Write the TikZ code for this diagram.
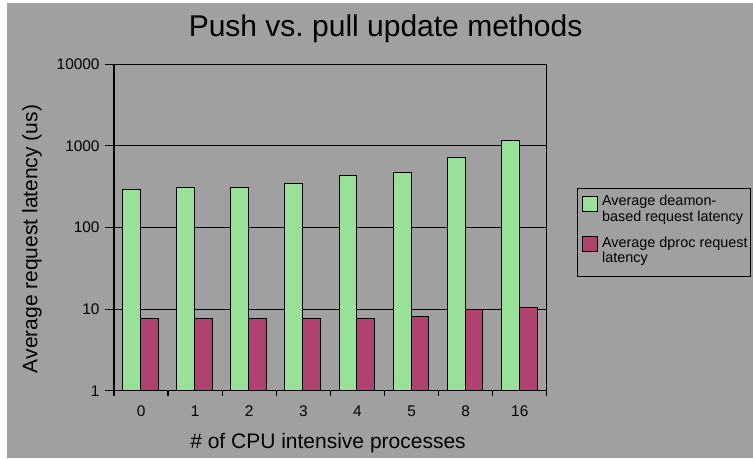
\documentclass[tikz,border=0pt]{standalone}
\usepackage{fontspec}
\setmainfont{Liberation Sans}
\usetikzlibrary{positioning}
\definecolor{chartgray}{RGB}{160,160,160}
\definecolor{daemongreen}{RGB}{153,224,153}
\definecolor{dprocred}{RGB}{176,66,112}

\begin{document}
\begin{tikzpicture}[x=27.05pt, y=40.8pt,
    bar/.style={draw=black, line width=0.5pt},
    gridline/.style={black, line width=0.6pt},
    ticklabel/.style={font=\fontsize{7.7}{9}\selectfont, inner sep=0pt},
    axislabel/.style={font=\fontsize{10.5}{12}\selectfont, inner sep=0pt},
    legendtext/.style={font=\fontsize{7.2}{7.8}\selectfont, inner sep=0pt, align=left, anchor=north west}]
    \useasboundingbox (-2.107,-0.825) rectangle (11.811,4.788);
    \fill[white] (-2.107,-0.825) rectangle (11.811,4.788);
    \fill[chartgray] (-1.978,-0.825) rectangle (11.811,4.751);

    % grid lines behind the bars
    \foreach \k in {1,2,3}
        \draw[gridline] (0,\k) -- (8,\k);

    % bars (log scale, one decade per unit)
    \foreach \i/\g/\r in {0/294/7.7, 1/305/7.7, 2/305/7.7, 3/348/7.7,
                          4/431/7.7, 5/475/8.2, 6/717/10, 7/1171/10.4} {
        \draw[bar, fill=daemongreen] (\i+0.16,0) rectangle (\i+0.49,{log10(\g)});
        \draw[bar, fill=dprocred] (\i+0.49,0) rectangle (\i+0.82,{log10(\r)});
    }

    % frame and ticks
    \draw[gridline] (0,0) rectangle (8,4);
    \foreach \k/\lab in {0/1, 1/10, 2/100, 3/1000, 4/10000} {
        \draw[gridline] (-0.166,\k) -- (0,\k);
        \node[ticklabel, anchor=east] (ytick\k) at (-0.26,\k) {\lab};
    }
    \foreach \i in {0,...,8}
        \draw[gridline] (\i,0) -- (\i,-0.07);
    \foreach \i/\lab in {0/0, 1/1, 2/2, 3/3, 4/4, 5/5, 6/8, 7/16}
        \node[ticklabel, anchor=base] (xtick\i) at (\i+0.5,-0.319) {\lab};

    \node[font=\fontsize{15}{18}\selectfont, anchor=base] (title) at (5.02,4.338) {Push vs.\ pull update methods};
    \node[axislabel, rotate=90] (ylabel) at (-1.516,1.859) {Average request latency (us)};
    \node[axislabel] (xlabel) at (3.956,-0.64) {\# of CPU intensive processes};

    % legend
    \draw[line width=0.5pt] (8.558,1.397) rectangle (11.774,2.48);
    \draw[bar, fill=daemongreen] (8.664,2.193) rectangle (8.934,2.377);
    \draw[bar, fill=dprocred] (8.664,1.703) rectangle (8.934,1.887);
    \node[legendtext] (leggreen) at (9.015,2.40) {Average deamon-\\based request latency};
    \node[legendtext] (legred) at (9.015,1.89) {Average dproc request\\latency};
\end{tikzpicture}
\end{document}
